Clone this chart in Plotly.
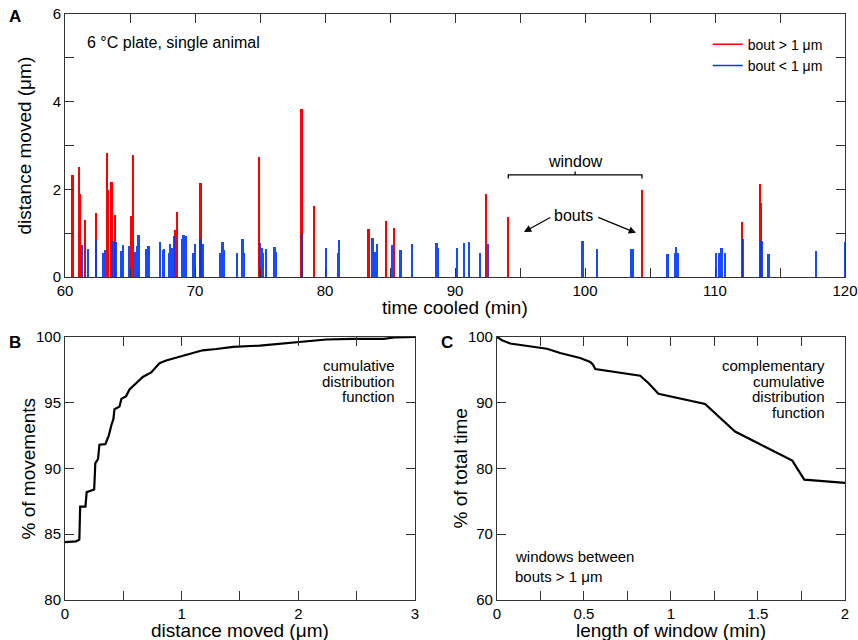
import plotly.graph_objects as go

# ---------------- data ----------------
# Panel A: bouts > 1 um (red)
red_time = [60.59, 61.08, 61.18, 61.54, 62.38, 63.23, 63.30, 63.59, 63.85, 65.13, 65.28,
            68.51, 68.64, 70.44, 74.92, 78.21, 79.20, 83.36, 84.74, 85.33, 92.38, 94.10,
            104.38, 112.10, 113.46, 113.52]
red_dist = [2.33, 2.52, 1.90, 1.30, 1.47, 2.83, 1.99, 2.18, 1.41, 1.39, 2.79,
            1.07, 1.49, 2.14, 2.75, 3.84, 1.63, 1.09, 1.28, 1.11, 1.89, 1.38,
            1.99, 1.25, 2.12, 1.68]
# Panel A: bouts < 1 um (blue)
blue_time = [61.31, 61.79, 62.38, 62.97, 63.10, 63.72, 63.90, 64.31, 64.46, 64.97, 65.44,
             65.56, 65.67, 66.28, 66.44, 67.31, 67.56, 67.63, 68.00, 68.10, 68.23, 68.41,
             69.05, 69.13, 69.31, 69.90, 70.00, 70.44, 70.64, 71.95, 72.13, 72.23, 73.28,
             73.67, 73.77, 75.05, 75.13, 75.25, 75.46, 76.13, 76.23, 78.28, 80.08, 81.05,
             81.10, 83.67, 83.90, 84.00, 85.20, 85.82, 86.70, 86.72, 88.59, 88.65, 88.70,
             90.20, 90.72, 91.08, 91.97, 92.56, 99.82, 100.97, 103.60, 103.70, 106.36,
             106.97, 107.05, 107.13, 110.10, 110.33, 110.46, 110.52, 110.77, 112.15,
             113.59, 113.64, 114.10, 114.18, 117.77, 120.00]
blue_dist = [0.73, 0.63, 0.84, 0.54, 0.61, 0.82, 0.80, 0.59, 0.73, 0.72, 0.57,
             0.70, 0.96, 0.64, 0.72, 0.80, 0.61, 0.65, 0.54, 0.76, 0.67, 0.94,
             0.86, 0.97, 0.94, 0.54, 0.76, 0.86, 0.76, 0.56, 0.80, 0.61, 0.54,
             0.86, 0.56, 0.78, 0.67, 0.56, 0.63, 0.69, 0.57, 0.98, 0.67, 0.54,
             0.84, 0.90, 0.57, 0.75, 0.73, 0.61, 0.52, 0.76, 0.78, 0.78, 0.67,
             0.67, 0.78, 0.80, 0.54, 0.76, 0.82, 0.65, 0.63, 0.63, 0.52,
             0.54, 0.69, 0.56, 0.55, 0.56, 0.67, 0.67, 0.56, 0.86,
             0.82, 0.71, 0.52, 0.52, 0.59, 0.79]

# Panel B: cumulative distribution of distance moved
cdf_x = [0, 0.094, 0.123, 0.13, 0.175, 0.186, 0.25, 0.26, 0.283, 0.295, 0.346, 0.375,
         0.398, 0.415, 0.424, 0.467, 0.484, 0.524, 0.553, 0.61, 0.667, 0.739, 0.78,
         0.81, 0.867, 0.98, 1.096, 1.18, 1.297, 1.44, 1.67, 1.87, 2.07, 2.24, 2.47,
         2.73, 2.84, 3.0]
cdf_y = [84.4, 84.45, 84.6, 87.1, 87.1, 88.2, 88.4, 90.4, 90.7, 91.8, 91.85, 92.5,
         93.3, 93.75, 94.5, 94.7, 95.3, 95.5, 96.0, 96.45, 96.95, 97.3, 97.7,
         98.0, 98.2, 98.5, 98.8, 98.98, 99.08, 99.24, 99.34, 99.5, 99.67, 99.8, 99.85,
         99.85, 99.97, 100.0]

# Panel C: complementary cumulative distribution of window length
ccdf_x = [0, 0.029, 0.076, 0.134, 0.19, 0.287, 0.363, 0.478, 0.536, 0.551, 0.565,
          0.708, 0.823, 0.87, 0.928, 1.196, 1.368, 1.697, 1.766, 2.0]
ccdf_y = [100, 99.5, 99.0, 98.8, 98.6, 98.2, 97.55, 96.8, 96.2, 95.8, 95.1,
          94.5, 94.1, 93.0, 91.35, 89.8, 85.6, 81.2, 78.3, 77.8]

# tick labels
a_xticks = list(range(60, 121, 5))
a_xlabels = [str(v) if v % 10 == 0 else "" for v in a_xticks]
a_yticks = [0, 1, 2, 3, 4, 5, 6]
a_ylabels = ["0", "", "2", "", "4", "", "6"]
b_xticks = [0, 0.5, 1, 1.5, 2, 2.5, 3]
b_xlabels = ["0", "", "1", "", "2", "", "3"]
c_xticks = [0, 0.25, 0.5, 0.75, 1, 1.25, 1.5, 1.75, 2]
c_xlabels = ["0", "", "0.5", "", "1", "", "1.5", "", "2"]

RED = "#ff0000"
BLUE = "#0038ff"
AX = "#333333"
FONT = "Liberation Sans, Arial, sans-serif"

fig = go.Figure()

fig.add_trace(go.Bar(x=red_time, y=red_dist, width=0.13, marker=dict(color=RED, line=dict(width=0)),
                     showlegend=False, xaxis="x", yaxis="y"))
fig.add_trace(go.Bar(x=blue_time, y=blue_dist, width=0.13, marker=dict(color=BLUE, line=dict(width=0)),
                     opacity=0.9, showlegend=False, xaxis="x", yaxis="y"))
# legend entries
fig.add_trace(go.Scatter(x=[None], y=[None], mode="lines", line=dict(color=RED, width=1.5),
                         name="bout > 1 μm", xaxis="x", yaxis="y"))
fig.add_trace(go.Scatter(x=[None], y=[None], mode="lines", line=dict(color=BLUE, width=1.5),
                         name="bout < 1 μm", xaxis="x", yaxis="y"))

fig.add_trace(go.Scatter(x=cdf_x, y=cdf_y, mode="lines", line=dict(color="black", width=2.2),
                         showlegend=False, xaxis="x2", yaxis="y2"))
fig.add_trace(go.Scatter(x=ccdf_x, y=ccdf_y, mode="lines", line=dict(color="black", width=2.2),
                         showlegend=False, xaxis="x3", yaxis="y3"))

common = dict(showline=True, linecolor=AX, linewidth=1, mirror="ticks", ticks="inside",
              ticklen=9, tickcolor=AX, tickwidth=1, showgrid=False, zeroline=False,
              automargin=False, ticklabeloverflow="allow",
              tickfont=dict(size=15, color="black", family=FONT))

fig.update_layout(
    width=858, height=640,
    margin=dict(l=65, r=13, t=14, b=40),
    paper_bgcolor="white", plot_bgcolor="white",
    barmode="overlay", bargap=0,
    font=dict(family=FONT, color="black"),
    xaxis=dict(domain=[0, 1], anchor="y", range=[60, 120], tickvals=a_xticks, ticktext=a_xlabels, **common),
    yaxis=dict(domain=[0.551, 1], anchor="x", range=[0, 6], tickvals=a_yticks, ticktext=a_ylabels, **common),
    xaxis2=dict(domain=[0, 0.4487], anchor="y2", range=[0, 3], tickvals=b_xticks, ticktext=b_xlabels, **common),
    yaxis2=dict(domain=[0, 0.449], anchor="x2", range=[80, 100], tickvals=[80, 85, 90, 95, 100], **common),
    xaxis3=dict(domain=[0.5538, 1], anchor="y3", range=[0, 2], tickvals=c_xticks, ticktext=c_xlabels, **common),
    yaxis3=dict(domain=[0, 0.449], anchor="x3", range=[60, 100], tickvals=[60, 70, 80, 90, 100], **common),
    legend=dict(x=0.824, y=0.975, xanchor="left", yanchor="top", bgcolor="rgba(0,0,0,0)",
                font=dict(size=14, family=FONT), itemwidth=30, tracegroupgap=0),
)

# bracket for "window"
fig.add_shape(type="path", xref="x", yref="y",
              path="M 94.1,2.25 L 94.1,2.33 L 104.38,2.33 L 104.38,2.25",
              line=dict(color="black", width=1.3))
fig.add_shape(type="line", xref="x", yref="y", x0=99.24, x1=99.24, y0=2.33, y1=2.41,
              line=dict(color="black", width=1.3))

TF = dict(size=19, family=FONT, color="black")
AF = dict(size=15, family=FONT, color="black")
ann = []
# axis titles
ann.append(dict(text="time cooled (min)", x=0.5, y=(600 - 307) / 586, xref="x domain", yref="paper",
                showarrow=False, font=TF, xanchor="center", yanchor="middle"))
ann.append(dict(text="distance moved (μm)", x=0.5, y=(600 - 630.5) / 586, xref="x2 domain", yref="paper",
                showarrow=False, font=TF, xanchor="center", yanchor="middle"))
ann.append(dict(text="length of window (min)", x=0.5, y=(600 - 630.5) / 586, xref="x3 domain", yref="paper",
                showarrow=False, font=TF, xanchor="center", yanchor="middle"))
ann.append(dict(text="distance moved (μm)", x=(25 - 65) / 780, y=0.5, xref="paper", yref="y domain",
                textangle=-90, showarrow=False, font=TF, xanchor="center", yanchor="middle"))
ann.append(dict(text="% of movements", x=(28 - 65) / 780, y=0.5, xref="paper", yref="y2 domain",
                textangle=-90, showarrow=False, font=TF, xanchor="center", yanchor="middle"))
ann.append(dict(text="% of total time", x=(460 - 65) / 780, y=0.5, xref="paper", yref="y3 domain",
                textangle=-90, showarrow=False, font=TF, xanchor="center", yanchor="middle"))

ann.append(dict(text="window", x=99.24, y=2.64, xref="x", yref="y", showarrow=False,
                font=dict(size=16, family=FONT, color="black")))
ann.append(dict(text="bouts", x=99.1, y=1.415, xref="x", yref="y", showarrow=False,
                font=dict(size=16, family=FONT, color="black")))
for hx, hy, tx, ty in [(95.31, 1.03, 97.44, 1.376), (103.92, 1.01, 100.9, 1.376)]:
    ann.append(dict(text="", x=hx, y=hy, ax=tx, ay=ty, xref="x", yref="y", axref="x", ayref="y",
                    showarrow=True, arrowhead=2, arrowsize=1.2, arrowwidth=1.2, arrowcolor="black",
                    standoff=0, startstandoff=0))
ann.append(dict(text="6 °C plate, single animal", x=(85 - 65) / 780, y=(277 - 42.5) / 263,
                xref="x domain", yref="y domain", xanchor="left", yanchor="middle", showarrow=False,
                font=dict(size=16, family=FONT, color="black")))
for line, py in [("cumulative", 366), ("distribution", 381.7), ("function", 396.7)]:
    ann.append(dict(text=line, x=(397 - 65) / 350, y=(600 - py) / 263, xref="x2 domain", yref="y2 domain",
                    xanchor="right", yanchor="middle", showarrow=False, font=AF))
for line, py in [("complementary", 365.5), ("cumulative", 381.2), ("distribution", 396.8), ("function", 412.3)]:
    ann.append(dict(text=line, x=(827 - 497) / 348, y=(600 - py) / 263, xref="x3 domain", yref="y3 domain",
                    xanchor="right", yanchor="middle", showarrow=False, font=AF))
for line, py in [("windows between", 557), ("bouts > 1 μm", 577)]:
    ann.append(dict(text=line, x=(513 - 497) / 348, y=(600 - py) / 263, xref="x3 domain", yref="y3 domain",
                    xanchor="left", yanchor="middle", showarrow=False, font=AF))
for lab, px, py in [("A", 15, 16), ("B", 15, 342), ("C", 447, 342)]:
    ann.append(dict(text="<b>" + lab + "</b>", x=(px - 65) / 780, y=(600 - py) / 586,
                    xref="paper", yref="paper", xanchor="center", yanchor="middle",
                    showarrow=False, font=dict(size=17, family=FONT, color="black")))
fig.update_layout(annotations=ann)

# remove the page's default body margin so the 858x640 figure fills the window exactly
fig.write_html("out.html", config={"displayModeBar": False},
               post_script="document.body.style.margin='0px';document.body.style.overflow='hidden';")
